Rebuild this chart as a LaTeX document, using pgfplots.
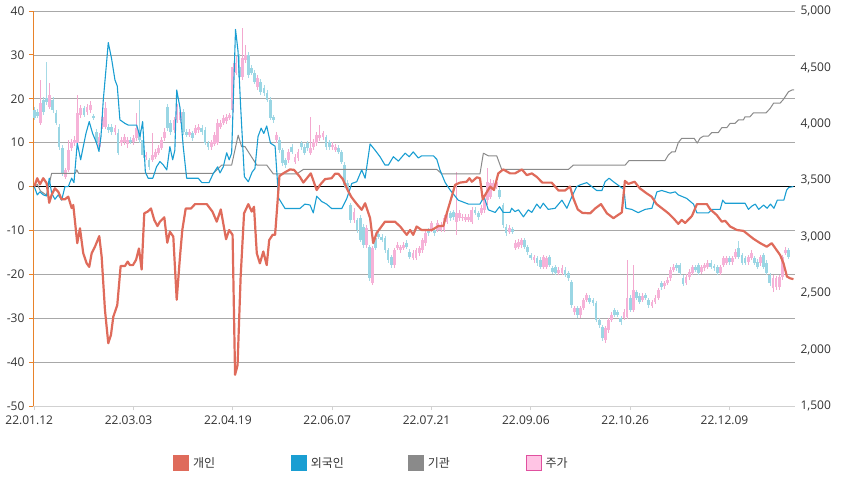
\documentclass[border=0pt]{standalone}
\usepackage{pgfplots}
\pgfplotsset{compat=1.18}
\usepackage{pgfplotstable}
\usepackage{fontspec}
\setmainfont{Open Sans}
\newfontfamily\kr{Noto Sans CJK KR}
\definecolor{cRed}{HTML}{DF6B5B}
\definecolor{cBlue}{HTML}{1A9ED2}
\definecolor{cGray}{HTML}{8A8A8A}
\definecolor{cPink}{HTML}{F6B2D8}
\definecolor{cPinkW}{HTML}{F3A8CF}
\definecolor{cLBlue}{HTML}{9AD6E4}
\definecolor{cLBlueW}{HTML}{A6DAE6}
\definecolor{cGrid}{HTML}{A8A8A8}
\definecolor{cAxisO}{HTML}{E8822A}
\definecolor{cTxt}{HTML}{333333}
\definecolor{cLegPink}{HTML}{FFC4E4}
\definecolor{cLegPinkB}{HTML}{E0509F}

% up candles (pink): x, body top, body bottom, high, low
\pgfplotstableread{
x t b h l
2 4185 4008 4389 3990
5 4256 4149 4362 4130
10 3591 3529 3610 3510
11 3768 3591 3857 3570
12 3839 3786 3870 3760
13 3857 3830 3890 3800
14 4096 3830 4256 3800
15 4141 4078 4170 4050
17 4149 4105 4180 4080
18 4167 4123 4200 4100
21 3884 3795 3920 3770
22 4061 3972 4100 3950
23 4141 3972 4190 3950
26 3963 3928 3990 3900
28 3857 3830 3880 3800
29 3884 3839 3910 3810
30 3857 3822 3880 3790
32 3875 3839 3900 3810
33 3963 3875 4096 3850
36 3724 3706 3750 3680
38 3724 3680 3919 3660
39 3751 3706 3780 3690
40 3786 3742 3810 3720
41 3857 3786 3880 3770
42 3928 3875 3960 3850
45 4034 3946 4060 3920
46 4149 4034 4180 4010
47 4105 4034 4130 4010
50 3928 3901 3950 3880
52 3963 3919 3990 3900
53 3972 3946 4000 3920
57 3839 3795 3860 3770
58 3901 3822 3930 3800
59 4008 3830 4040 3810
60 4008 3972 4030 3950
61 4052 4008 4080 3990
62 4061 4025 4090 4000
63 4078 4052 4100 4030
64 4504 4123 4539 4100
65 4539 4451 4600 4430
67 4584 4415 4850 4390
68 4610 4566 4700 4540
72 4406 4327 4430 4300
78 3901 3857 3930 3830
82 3751 3680 3780 3650
84 3706 3662 3730 3640
85 3751 3698 3780 3670
89 3786 3742 4061 3720
90 3839 3795 3870 3770
91 3901 3830 3930 3800
92 3901 3875 3990 3850
93 3919 3884 3940 3860
96 3813 3795 3840 3770
97 3795 3768 3820 3750
103 3219 3148 3250 3120
107 3077 2927 3100 2900
109 2900 2590 2920 2570
116 2882 2749 2900 2720
117 2927 2900 2950 2880
118 2909 2882 2930 2860
119 2927 2900 2950 2880
122 2856 2811 2880 2790
123 2882 2811 2900 2790
124 2900 2856 2920 2830
125 2971 2882 2990 2860
126 3033 2944 3060 2920
128 3122 3059 3140 3040
130 3122 3059 3150 3040
131 3104 3059 3130 3040
132 3166 3059 3190 3040
133 3175 3130 3200 3110
136 3210 3130 3573 3015
137 3210 3166 3240 3140
138 3175 3166 3200 3140
139 3175 3148 3200 3130
140 3175 3148 3200 3130
141 3237 3130 3260 3110
144 3254 3210 3280 3190
145 3325 3237 3350 3210
146 3485 3325 3609 3281
147 3476 3352 3510 3330
148 3476 3440 3500 3420
149 3485 3440 3510 3420
153 3077 3042 3100 3020
155 2944 2900 2970 2880
156 2953 2909 2980 2890
157 2971 2927 2990 2900
161 2820 2794 2840 2770
164 2820 2732 2840 2710
165 2811 2732 2830 2710
169 2705 2678 2730 2660
170 2723 2678 2750 2660
174 2368 2333 2390 2310
176 2368 2306 2390 2280
177 2439 2368 2460 2350
178 2483 2439 2500 2420
184 2191 2085 2210 2058
185 2262 2173 2280 2150
186 2306 2262 2330 2240
190 2333 2280 2360 2260
191 2457 2288 2794 2270
193 2528 2351 2749 2330
196 2475 2439 2500 2420
199 2421 2386 2440 2370
200 2457 2421 2480 2400
201 2528 2457 2550 2440
203 2590 2563 2610 2540
204 2616 2590 2640 2570
205 2705 2634 2730 2610
206 2732 2705 2760 2690
210 2643 2590 2670 2570
211 2687 2643 2710 2620
212 2732 2678 2750 2660
215 2732 2687 2750 2670
216 2749 2723 2770 2700
217 2767 2732 2790 2710
221 2732 2678 2750 2660
222 2811 2749 2830 2730
223 2811 2767 2830 2750
225 2811 2776 2830 2750
226 2864 2820 2890 2800
230 2820 2776 2840 2750
231 2856 2811 2880 2790
234 2820 2767 2840 2740
238 2634 2546 2660 2510
239 2634 2554 2650 2530
240 2643 2554 2660 2530
241 2820 2643 2840 2620
242 2882 2856 2910 2840
}\upc

% down candles (light blue): x, body top, body bottom, high, low
\pgfplotstableread{
x t b h l
0 4123 4052 4150 4030
1 4105 4070 4130 4050
3 4211 4105 4240 4080
4 4229 4194 4550 4170
6 4211 4123 4240 4100
7 4096 4008 4120 3990
8 3972 3795 4000 3770
9 3786 3565 3810 3540
16 4141 4078 4160 4060
19 4070 4052 4090 4030
20 3928 3839 3950 3810
24 3972 3946 4000 3920
25 3972 3928 4000 3900
27 3919 3742 3950 3720
31 3857 3839 3880 3820
34 3946 3857 4211 3830
35 3857 3724 3880 3700
37 3680 3618 3700 3590
43 4149 3963 4180 3940
44 4008 3928 4030 3900
48 4105 3928 4130 3900
49 3928 3901 3950 3880
51 3919 3875 3940 3850
54 3963 3928 3990 3900
55 3946 3830 3970 3810
56 3830 3795 3850 3770
66 4504 4415 4620 4390
69 4610 4433 4640 4410
70 4495 4451 4520 4430
71 4451 4371 4480 4350
73 4371 4282 4400 4260
74 4318 4273 4340 4250
75 4273 4211 4300 4190
76 4211 4052 4240 4030
77 4061 4034 4080 4010
79 3857 3768 3880 3740
80 3768 3653 3790 3630
81 3680 3635 3700 3610
83 3795 3751 3820 3730
86 3830 3795 3850 3770
87 3795 3742 3820 3720
88 3830 3786 3850 3760
94 3884 3795 3900 3770
95 3839 3795 3860 3770
98 3786 3751 3810 3730
99 3751 3662 3770 3640
100 3635 3458 3660 3430
101 3476 3423 3500 3400
102 3281 3148 3300 3120
104 3148 3059 3170 3030
105 3166 2971 3190 2950
106 3086 2927 3110 2900
108 2909 2634 2930 2610
110 2989 2900 3010 2880
111 3024 2997 3040 2980
112 2997 2971 3020 2950
113 2989 2882 3010 2860
114 2882 2794 2900 2770
115 2820 2749 2840 2720
120 2944 2909 2970 2890
121 2864 2820 2890 2800
127 3059 3033 3080 3010
129 3059 3033 3080 3010
134 3210 3166 3230 3140
135 3219 3175 3240 3150
142 3237 3210 3260 3190
143 3210 3175 3230 3150
150 3414 3352 3440 3330
151 3281 3104 3300 3080
152 3086 3033 3110 3010
154 3068 3042 3090 3020
158 2971 2909 2990 2890
159 2909 2864 2930 2840
160 2838 2811 2860 2790
162 2811 2767 2830 2740
163 2794 2732 2820 2710
166 2820 2749 2840 2730
167 2723 2687 2740 2670
168 2732 2678 2750 2660
171 2705 2661 2730 2640
172 2678 2634 2700 2610
173 2599 2395 2620 2370
175 2368 2306 2390 2280
179 2457 2421 2480 2400
180 2439 2413 2460 2390
181 2413 2262 2430 2240
182 2262 2218 2280 2190
183 2200 2103 2220 2080
187 2351 2306 2370 2290
188 2333 2306 2350 2290
189 2280 2244 2300 2220
192 2457 2351 2480 2330
194 2510 2457 2530 2440
195 2475 2421 2500 2400
197 2483 2457 2500 2440
198 2439 2395 2460 2370
202 2590 2554 2610 2530
207 2749 2723 2770 2700
208 2749 2678 2770 2660
209 2634 2581 2660 2560
213 2732 2705 2750 2690
214 2749 2678 2770 2660
218 2767 2732 2790 2710
219 2740 2723 2760 2700
220 2732 2678 2750 2660
224 2811 2776 2830 2750
227 2900 2820 2960 2800
228 2838 2767 2860 2750
229 2811 2767 2830 2750
232 2811 2767 2830 2750
233 2776 2732 2800 2710
235 2838 2732 2860 2710
236 2767 2678 2790 2660
237 2661 2590 2680 2560
243 2882 2820 2900 2800
}\dnc

\pgfplotsset{base/.style={width=762pt,height=395pt,scale only axis,
  xmin=-0.4,xmax=245.1,
  /pgf/number format/assume math mode=true,
  tick label style={font=\fontsize{12}{14}\selectfont, text=cTxt}},
  candle/.style 2 args={forget plot, draw=none, mark=none,
    error bars/.cd, y dir=both, y explicit, error mark=none,
    error bar style={draw=#1, solid, line width=#2}}}

\begin{document}
\begin{tikzpicture}
\path[use as bounding box] (-33pt,-84pt) rectangle (812pt,406pt);

% axis 1: grid, left scale, x ticks
\begin{axis}[base, ymin=-50, ymax=40, ytick={-50,-40,...,40},
  axis y line*=left, axis x line*=bottom,
  ymajorgrids, grid style={cGrid, line width=0.7pt},
  y axis line style={cAxisO, line width=0.9pt},
  x axis line style={black!18, line width=0.9pt},
  ytick style={cAxisO, line width=0.9pt},
  xtick style={black!18, line width=0.9pt},
  tick align=outside, major tick length=4pt,
  xtick={0,32,64,96,128,160,192,224},
  xticklabels={22.01.12,22.03.03,22.04.19,22.06.07,22.07.21,22.09.06,22.10.26,22.12.09},
  xticklabel style={yshift=-2pt, xshift=-5pt},
  yticklabel style={xshift=-1pt},
  extra y ticks={0}, extra y tick labels={},
  extra y tick style={grid style={black, line width=0.8pt}}]
\addplot[draw=none, forget plot] coordinates {(0,0)};
\end{axis}

% axis 2: candles, right scale
\begin{axis}[base, ymin=1500, ymax=5000,
  axis y line*=right, axis x line=none,
  ytick={1500,2000,...,5000},
  yticklabels={{1,500},{2,000},{2,500},{3,000},{3,500},{4,000},{4,500},{5,000}},
  y axis line style={draw=none}, ytick style={draw=none},
  yticklabel style={xshift=2pt}]
% wicks
\addplot[candle={cPinkW}{0.7pt}]
  table[x=x, y expr={(\thisrow{h}+\thisrow{l})/2}, y error expr={(\thisrow{h}-\thisrow{l})/2}] {\upc};
\addplot[candle={cLBlueW}{0.7pt}]
  table[x=x, y expr={(\thisrow{h}+\thisrow{l})/2}, y error expr={(\thisrow{h}-\thisrow{l})/2}] {\dnc};
% bodies
\addplot[candle={cPink}{2.8pt}]
  table[x=x, y expr={(\thisrow{t}+\thisrow{b})/2}, y error expr={(\thisrow{t}-\thisrow{b})/2}] {\upc};
\addplot[candle={cLBlue}{2.8pt}]
  table[x=x, y expr={(\thisrow{t}+\thisrow{b})/2}, y error expr={(\thisrow{t}-\thisrow{b})/2}] {\dnc};
\end{axis}

% axis 3: lines, left scale
\begin{axis}[base, ymin=-50, ymax=40, hide axis]
\addplot[cGray, line width=1pt, line join=round] coordinates {
(0,0)(1,0.5)(2,-1)(3,-1.5)(4,-2)(4.8,0.5)(5.6,3)(13.2,3)(13.7,3.8)(14.3,3)(57.7,3)
(60.4,4.9)(63.6,4.9)(65.7,11.7)(66.8,9.1)(67.9,9.1)(70.6,6.1)(71.7,4.9)(74.9,4.9)(77,2.9)
(84.6,2.9)(86.7,3.9)(129.7,3.9)(131.3,2.9)(143.6,2.9)(144.7,7.6)(146.3,7)(149,7)(150.6,3.9)
(172.1,3.9)(173.7,4.9)(190.4,4.9)(191.6,5.9)(203.2,5.9)(204.3,7.2)(205.4,7.9)(206.5,7.9)
(207.5,10)(208.6,11)(212.6,11)(213.6,9.9)(214.5,11)(215.6,11.5)(217.2,11.5)(218.3,12.3)
(220.4,12.3)(221.5,13.4)(223.1,13.4)(224.2,14.4)(225.8,14.4)(226.9,15.2)(228.5,15.2)
(229,15.9)(230.6,15.9)(231.7,16.8)(235.8,16.8)(237.1,17.8)(238.2,19)(240.3,19)(241.4,19.9)
(243,21.6)(244.1,22)(244.8,22)};
\addplot[cBlue, line width=1.1pt, line join=round] coordinates {
(0,0)(0.97,-1.9)(1.84,-1.2)(2.9,-1.9)(4,-2.15)(4.83,1.9)(5.6,-1.5)(6.67,-2.9)(7.73,-1.9)
(8.83,-3.1)(9.9,0)(10.96,0)(12.05,1.9)(12.8,0.9)(13.86,9.9)(14.95,6.1)(15.8,9.1)(16.66,12.1)
(17.72,14.8)(18.8,12.1)(20.1,9.9)(20.85,8)(21.5,11.4)(22.24,19.7)(23.1,26.6)(23.85,32.8)
(24.9,29.2)(26,24.3)(26.75,22.9)(27.6,15.2)(29.2,14.4)(30.3,14)(33,14)(34.06,11.4)(34.93,14.8)
(35.8,3.3)(36.7,1.9)(38.2,1.9)(39.4,4.5)(40.5,5.7)(41.6,4.9)(42.7,3.8)(43.7,9.1)(44.6,6.1)
(45.3,8.3)(45.9,22)(46.95,18)(48,9.1)(49.1,1.9)(52.85,1.9)(54,0.9)(56.3,0.9)(57.7,3)
(59.1,4.5)(59.85,3.1)(60.9,4.5)(62,7.7)(62.8,6.1)(63.6,7.6)(64.85,35.8)(65.65,30.9)
(66.5,18.2)(67.7,2.25)(68.97,1.1)(70.2,3.3)(71.1,4.1)(72.1,11.4)(73.1,13.3)(73.96,12.1)
(74.9,13.8)(76.1,9.9)(77.6,9.2)(78.7,-2.6)(80.8,-5)(85.6,-5)(87.2,-4)(88.85,-4.2)(89.9,-6)
(91,-2.2)(92.6,-3.4)(94.2,-4)(95.8,-5)(99.1,-5)(100.7,-2.7)(102.3,0.7)(103.9,1.1)(105.5,3.8)
(106.6,1.9)(108.2,9.7)(109.8,8.3)(111.4,6.8)(113,4.9)(114.1,4.9)(115.7,6.8)(117.3,5.8)
(119.5,7.6)(120.8,6.8)(122.1,7.9)(123.75,6.5)(124.8,7)(128.6,7)(129.7,6.2)(130.7,3.8)
(132.4,0.9)(134,-0.8)(135.6,-2.2)(136.6,-3.1)(139.9,-4)(143.6,-4)(144.9,-2.3)(146.3,-5.3)
(148.5,-5.9)(149.9,-4.6)(151.1,-5.9)(153.3,-5.9)(153.8,-4.95)(154.9,-5.7)(156,-5.3)
(157.6,-6.9)(159.2,-5.3)(160.3,-5.9)(161.9,-4)(163,-4.95)(164,-3.8)(165.6,-5.2)(167.8,-4.95)
(170,-3.1)(171.6,-4.95)(173.2,-2.3)(174.8,0)(175.9,0.4)(178,0.9)(179.6,0)(181.2,-0.9)
(182.9,-0.9)(183.9,1.1)(185.2,1.9)(186.6,1.1)(188.7,0)(190,-0.6)(190.6,-4.95)(192.5,-5.2)
(194.6,-5.95)(196.8,-5.2)(199,-4.95)(200.6,-1.2)(202.2,-0.9)(204.9,-1.5)(206.5,-1.2)
(207.5,-1.9)(210.2,-2.7)(212.4,-4)(213.5,-6)(217.2,-6)(218.4,-5.2)(221,-5.2)(221.8,-3.1)
(222.6,-3.8)(229,-3.8)(230.1,-5.2)(231.3,-4.4)(232.3,-4)(233.4,-5.2)(235,-4.2)(236.1,-4.95)
(237.2,-4)(238.3,-4.95)(239.4,-3.1)(241.5,-3.1)(242.4,-0.8)(243.1,-0.2)(244.6,0)};
\addplot[cRed, line width=2.2pt, line join=round] coordinates {
(0,0)(0.97,1.9)(1.84,0.5)(2.9,1.9)(4,0.75)(4.83,-3.7)(5.6,-1.9)(6.67,-0.4)(7.73,-1.2)
(8.83,-2.9)(9.9,-2.9)(10.96,-2.3)(12.05,-4.9)(12.57,-4.2)(13.86,-12.9)(14.73,-9.5)
(15.79,-15.2)(16.89,-17.5)(17.72,-18.3)(18.5,-15.2)(19.56,-13.7)(20.95,-11.3)(21.72,-16)
(22.78,-28.1)(23.85,-35.7)(24.72,-33.8)(25.46,-29.7)(26.75,-27)(27.84,-18.1)(29.23,-18.1)
(30.1,-17.1)(30.84,-17.9)(31.8,-17.9)(32.8,-16.7)(33.74,-14.1)(34.6,-18.9)(35.45,-6.1)
(36.55,-5.7)(37.6,-5)(38.67,-7.6)(39.7,-9)(40.5,-8)(41.9,-7)(42.86,-12.8)(43.7,-10.3)
(44.8,-11.4)(45.9,-25.8)(46.95,-16)(47.7,-9.9)(48.8,-5)(50.5,-5)(51.8,-4)(55.6,-4)
(57.4,-5.7)(58.8,-8)(60.1,-5.2)(60.7,-7.6)(61.8,-12)(62.8,-9.9)(63.9,-11)(64.7,-42.9)
(65.5,-40.7)(66.5,-20.5)(67.6,-6.1)(68.97,-4)(70.06,-5.7)(70.8,-4.6)(71.7,-15.2)(72.7,-17.5)
(73.8,-14.8)(74.9,-17.9)(75.7,-12.2)(76.8,-11)(77.6,-11)(79,2.4)(80.2,3)(82.4,3.9)(83.7,3.8)
(85.6,2.2)(86.7,0.9)(89.1,3)(91,-0.8)(92.1,0.4)(93.7,1.7)(95.8,1.9)(96.9,2.9)(98,2.9)
(99.4,1.7)(100.7,-0.4)(102.1,-2.3)(103.7,-3.8)(105.5,-5.3)(106.6,-3.8)(108.2,-7.2)
(109.2,-12.9)(110.3,-10.6)(113,-8)(116.2,-8)(117.9,-9.1)(120,-11)(121.1,-9.9)(122.1,-11)
(123.2,-9.1)(124.8,-9.9)(128.1,-9.9)(130.2,-9)(131.8,-9)(132.9,-6.1)(134.5,-2.3)(135.6,0.4)
(137.2,0.9)(139.3,1.1)(140.2,1.9)(141,1.1)(142.6,2.1)(143.6,1.9)(144.5,-2.9)(145.6,-1.5)
(146.9,0)(148.1,-0.8)(149.5,3)(151.1,3.9)(153.3,3)(154.9,3)(157.1,3.9)(158.7,2.6)(160.3,3)
(161.9,2.2)(163.7,0.9)(166.7,0.9)(168.9,-0.9)(171,-0.9)(172.6,0)(173.7,-2.7)(175.1,-5.2)
(176.6,-6)(179.1,-6.1)(180.7,-5)(182.6,-4)(184.5,-6.1)(186.6,-7.2)(189.3,-5.9)(190.3,1.3)
(191.4,0.6)(193.4,1.1)(195.1,-0.4)(197.2,-1.5)(198.9,-2.3)(200.5,-4)(202.7,-5.2)(204.3,-6.1)
(205.9,-7.2)(207.5,-8.5)(208.6,-7.6)(209.7,-8.3)(211.9,-6.7)(213.5,-4)(216.7,-4)(217.8,-5.2)
(219.9,-6.5)(221.5,-8)(222.6,-7.8)(224.2,-9.1)(226.4,-9.9)(228.5,-10.1)(230.1,-11)
(231.7,-11.9)(233.9,-12.9)(236,-13.7)(237.6,-12.9)(239.2,-14.5)(240.3,-15.6)(241.4,-17.5)
(242.5,-20.5)(243.5,-20.9)(244.6,-21.1)};
\end{axis}

% legend
\begin{scope}[font=\kr\fontsize{12}{14}\selectfont, text=cTxt]
\fill[cRed] (140pt,-65pt) rectangle (156pt,-49pt);
\node[anchor=west, inner sep=0pt] at (160pt,-57pt) {개인};
\fill[cBlue] (257.7pt,-65pt) rectangle (273.7pt,-49pt);
\node[anchor=west, inner sep=0pt] at (277.7pt,-57pt) {외국인};
\fill[cGray] (374.7pt,-65pt) rectangle (390.7pt,-49pt);
\node[anchor=west, inner sep=0pt] at (394.7pt,-57pt) {기관};
\filldraw[fill=cLegPink, draw=cLegPinkB, line width=0.9pt] (493.2pt,-64.5pt) rectangle (508.7pt,-49.5pt);
\node[anchor=west, inner sep=0pt] at (512.3pt,-57pt) {주가};
\end{scope}
\end{tikzpicture}
\end{document}
